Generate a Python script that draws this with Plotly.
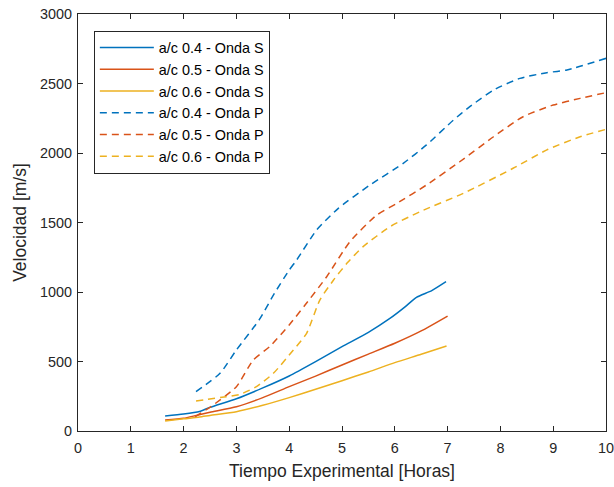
import plotly.graph_objects as go

# S-wave series
s04_t = [1.65, 2.0, 2.3, 2.5, 3.0, 3.5, 4.0, 4.5, 5.0, 5.5, 5.9, 6.2, 6.41, 6.7, 6.97]
s04_v = [108, 122, 140, 170, 232, 310, 396, 499, 607, 710, 808, 895, 962, 1010, 1074]

s05_t = [1.65, 2.0, 2.24, 2.5, 3.0, 3.5, 4.0, 4.5, 5.0, 5.5, 6.0, 6.5, 7.0]
s05_v = [79, 91, 112, 135, 175, 240, 319, 395, 475, 553, 631, 720, 827]

s06_t = [1.65, 2.0, 2.3, 2.5, 3.0, 3.5, 4.0, 4.5, 5.0, 5.5, 6.0, 6.5, 6.98]
s06_v = [72, 88, 100, 112, 139, 185, 240, 300, 362, 425, 492, 552, 612]

# P-wave series
p04_t = [2.235, 2.69, 3.0, 3.43, 3.72, 4.0, 4.14, 4.52, 4.93, 5.53, 6.16, 6.6, 7.11, 7.42, 7.87, 8.37, 8.88, 9.26, 10.0]
p04_v = [283, 415, 583, 799, 990, 1158, 1230, 1446, 1602, 1770, 1926, 2058, 2237, 2333, 2453, 2537, 2578, 2597, 2681]

p05_t = [2.22, 2.56, 3.0, 3.32, 3.63, 4.0, 4.3, 4.71, 5.15, 5.66, 6.04, 6.6, 7.23, 7.87, 8.43, 9.0, 9.51, 10.0]
p05_v = [103, 187, 319, 511, 607, 763, 906, 1110, 1362, 1554, 1638, 1770, 1937, 2117, 2261, 2345, 2393, 2434]

p06_t = [2.235, 2.81, 3.07, 3.38, 3.7, 4.08, 4.33, 4.58, 4.84, 5.1, 5.4, 5.91, 6.48, 7.3, 8.24, 8.88, 9.51, 10.0]
p06_v = [216, 247, 264, 319, 415, 583, 703, 942, 1086, 1210, 1326, 1470, 1578, 1710, 1890, 2022, 2117, 2170]

names = ["a/c 0.4 - Onda S", "a/c 0.5 - Onda S", "a/c 0.6 - Onda S",
         "a/c 0.4 - Onda P", "a/c 0.5 - Onda P", "a/c 0.6 - Onda P"]
colors = ["#0072BD", "#D95319", "#EDB120"]

series = [(s04_t, s04_v), (s05_t, s05_v), (s06_t, s06_v),
          (p04_t, p04_v), (p05_t, p05_v), (p06_t, p06_v)]

FONT = "Liberation Sans, Arial, sans-serif"

fig = go.Figure()
for i, (t, v) in enumerate(series):
    fig.add_trace(go.Scatter(
        x=t, y=v, mode="lines", name=names[i],
        line=dict(color=colors[i % 3], width=1.5,
                  dash="solid" if i < 3 else "7px,5px", shape="spline", smoothing=0.6),
    ))

axis_common = dict(
    showline=True, linecolor="#262626", linewidth=1.2, mirror="ticks",
    ticks="inside", ticklen=5, tickcolor="#262626", tickwidth=1.2,
    showgrid=False, zeroline=False, automargin=False, ticklabeloverflow="allow",
    tickfont=dict(family=FONT, size=14.4, color="#262626"),
    title_font=dict(family=FONT, size=17.5, color="#262626"),
)

fig.update_layout(
    width=614, height=487,
    margin=dict(l=78, r=8, t=14, b=56),
    paper_bgcolor="white", plot_bgcolor="white",
    font=dict(family=FONT, color="#262626"),
    xaxis=dict(range=[0, 10], dtick=1, ticklabelstandoff=4,
               title=dict(text="Tiempo Experimental [Horas]", standoff=9), **axis_common),
    yaxis=dict(range=[0, 3000], dtick=500, ticklabelstandoff=2,
               title=dict(text="Velocidad [m/s]", standoff=8), **axis_common),
    legend=dict(x=0.03, y=0.96, xanchor="left", yanchor="top",
                bgcolor="white", bordercolor="#262626", borderwidth=1,
                font=dict(family=FONT, size=14.4, color="#000000"),
                tracegroupgap=0, itemwidth=54),
    showlegend=True,
)

fig.write_html("out.html")
